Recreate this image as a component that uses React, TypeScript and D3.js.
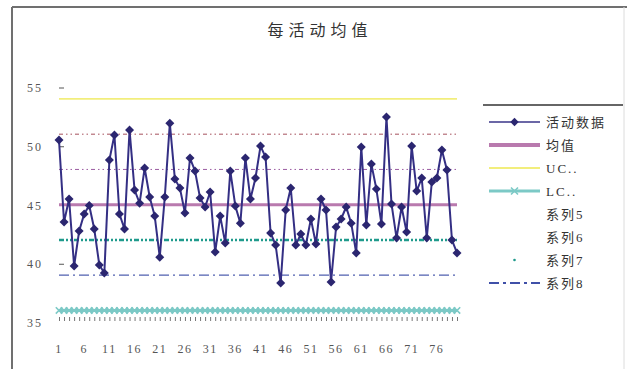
import React from "react";
import * as d3 from "d3";

const title = "每活动均值";
const activity: number[] = [
  50.57, 43.6, 45.55, 39.85, 42.83, 44.28, 45.0, 43.0, 39.94, 39.26,
  48.87, 51.0, 44.28, 43.0, 51.43, 46.32, 45.2, 48.19, 45.72, 44.1,
  40.6, 45.72, 52.0, 47.26, 46.49, 44.36, 49.04, 47.94, 45.64, 44.87,
  46.15, 41.04, 44.1, 41.8, 47.94, 44.96, 43.5, 49.04, 45.55, 47.34,
  50.06, 49.13, 42.66, 41.64, 38.4, 44.62, 46.49, 41.64, 42.57, 41.64,
  43.85, 41.72, 45.55, 44.62, 38.49, 43.17, 43.85, 44.87, 43.5, 40.96,
  49.98, 43.34, 48.53, 46.4, 43.43, 52.53, 45.13, 42.23, 44.87, 42.74,
  50.06, 46.23, 47.34, 42.23, 47.0, 47.34, 49.72, 48.02, 42.06, 40.96,
];
const categories: number[] = activity.map((_, i) => i + 1);
const seriesNames = ["活动数据", "均值", "UC..", "LC..", "系列5", "系列6", "系列7", "系列8"];
const meanValue = [45.07];
const uclValue = [54.07];
const lclValue = [36.07];
const s5Value = [51.07];
const s6Value = [48.07];
const s7Value = [42.07];
const s8Value = [39.07];
const yTicks = [35, 40, 45, 50, 55];
const xLabelStep = 5;

const serif = "'Liberation Serif', 'DejaVu Serif', serif";
const cjk = "'Noto Sans CJK SC', sans-serif";

export default function App() {
  const W = 627, H = 369;
  const x = d3.scalePoint<number>().domain(categories).range([59, 457]);
  const y = d3.scaleLinear().domain([35, 55]).range([323, 88]);
  const line = d3.line<number>().x((_, i) => x(categories[i])!).y((d) => y(d));
  const x0 = x(categories[0])!;
  const x1 = x(categories[categories.length - 1])!;

  const hline = (v: number, stroke: string, sw: number, dash?: string, key?: string) => (
    <line key={key} x1={x0} x2={x1} y1={y(v)} y2={y(v)} stroke={stroke} strokeWidth={sw} strokeDasharray={dash} />
  );

  const diamond = (cx: number, cy: number, r: number, key?: any) => (
    <path key={key} d={`M${cx},${cy - r}L${cx + r},${cy}L${cx},${cy + r}L${cx - r},${cy}Z`} fill="#2b2670" />
  );
  const cross = (cx: number, cy: number, r: number, key?: any) => (
    <path key={key} d={`M${cx - r},${cy - r}L${cx + r},${cy + r}M${cx - r},${cy + r}L${cx + r},${cy - r}`} stroke="#7cc9c6" strokeWidth={1.6} fill="none" />
  );

  const legX = 489, legX2 = 540, legText = 546;
  const legY = (i: number) => 122 + i * 23;

  return (
    <svg width={W} height={H} style={{ position: "absolute", left: 0, top: 0, background: "#fff" }}>
      <rect x={0} y={0} width={W} height={H} fill="#fff" />
      {/* frame */}
      <line x1={12} y1={7} x2={627} y2={7} stroke="#707070" strokeWidth={2} />
      <line x1={12} y1={7} x2={12} y2={369} stroke="#707070" strokeWidth={2} />
      <line x1={624} y1={7} x2={624} y2={369} stroke="#dcdcdc" strokeWidth={1} />
      {/* title */}
      <text x={320} y={36} textAnchor="middle" fontFamily={cjk} fontSize={16} letterSpacing={5} fill="#333">{title}</text>

      {/* y ticks & labels */}
      {yTicks.map((t) => (
        <g key={t}>
          <text x={43} y={y(t) + 4} textAnchor="end" fontFamily={serif} fontSize={12} letterSpacing={2} fill="#555">{t}</text>
          {t > 35 && <line x1={59} x2={64} y1={y(t)} y2={y(t)} stroke="#555" strokeWidth={1} />}
        </g>
      ))}
      {/* x ticks & labels */}
      {categories.map((c) => (
        <line key={"t" + c} x1={x(c)! + 0.5} x2={x(c)! + 0.5} y1={317} y2={321} stroke="#777" strokeWidth={1} />
      ))}
      {categories.filter((c) => (c - 1) % xLabelStep === 0).map((c) => (
        <text key={"l" + c} x={x(c)!} y={353} textAnchor="middle" fontFamily={serif} fontSize={12} letterSpacing={1.5} fill="#555">{c}</text>
      ))}

      {/* reference lines */}
      {hline(uclValue[0], "#f2ee7c", 1.8, undefined, "ucl")}
      {hline(s5Value[0], "#a5505c", 1, "4,3,1.5,3,1.5,3", "s5")}
      {hline(s6Value[0], "#9a5aa0", 1, "4,3,1.5,3,1.5,3", "s6")}
      {hline(meanValue[0], "#b97aae", 3, undefined, "mean")}
      {hline(s7Value[0], "#1f9a8c", 2.5, "5,2,2,2,2,2", "s7")}
      {hline(s8Value[0], "#5060b0", 1.3, "10,4,2,4", "s8")}

      {/* LCL with x markers */}
      {hline(lclValue[0], "#7cc9c6", 3, undefined, "lcl")}
      {categories.map((c) => cross(x(c)!, y(lclValue[0]), 3.2, "x" + c))}

      {/* activity data */}
      <path d={line(activity) || ""} fill="none" stroke="#342f84" strokeWidth={2} />
      {activity.map((v, i) => diamond(x(categories[i])!, y(v), 4.5, "d" + i))}

      {/* legend */}
      <line x1={483} x2={623} y1={105} y2={105} stroke="#666" strokeWidth={2} />
      <line x1={legX} x2={legX2} y1={legY(0)} y2={legY(0)} stroke="#3a3488" strokeWidth={1.5} />
      {diamond((legX + legX2) / 2, legY(0), 4.2)}
      <line x1={legX} x2={legX2} y1={legY(1)} y2={legY(1)} stroke="#b97aae" strokeWidth={4} />
      <line x1={legX} x2={legX2} y1={legY(2)} y2={legY(2)} stroke="#f2ee7c" strokeWidth={1.8} />
      <line x1={legX} x2={legX2} y1={legY(3)} y2={legY(3)} stroke="#7cc9c6" strokeWidth={3} />
      {cross((legX + legX2) / 2, legY(3), 3.5)}
      <circle cx={(legX + legX2) / 2} cy={legY(6)} r={1.3} fill="#1f9a8c" />
      <line x1={legX} x2={legX2} y1={legY(7)} y2={legY(7)} stroke="#4050a8" strokeWidth={1.8} strokeDasharray="10,4,3,4" />
      {seriesNames.map((n, i) => (
        <text key={n} x={legText} y={legY(i) + 5} fontSize={13} letterSpacing={2} fill="#333">
          {n.split("").map((ch, j) => (
            <tspan key={j} fontFamily={/[\u4e00-\u9fff]/.test(ch) ? cjk : serif}>{ch}</tspan>
          ))}
        </text>
      ))}
    </svg>
  );
}
